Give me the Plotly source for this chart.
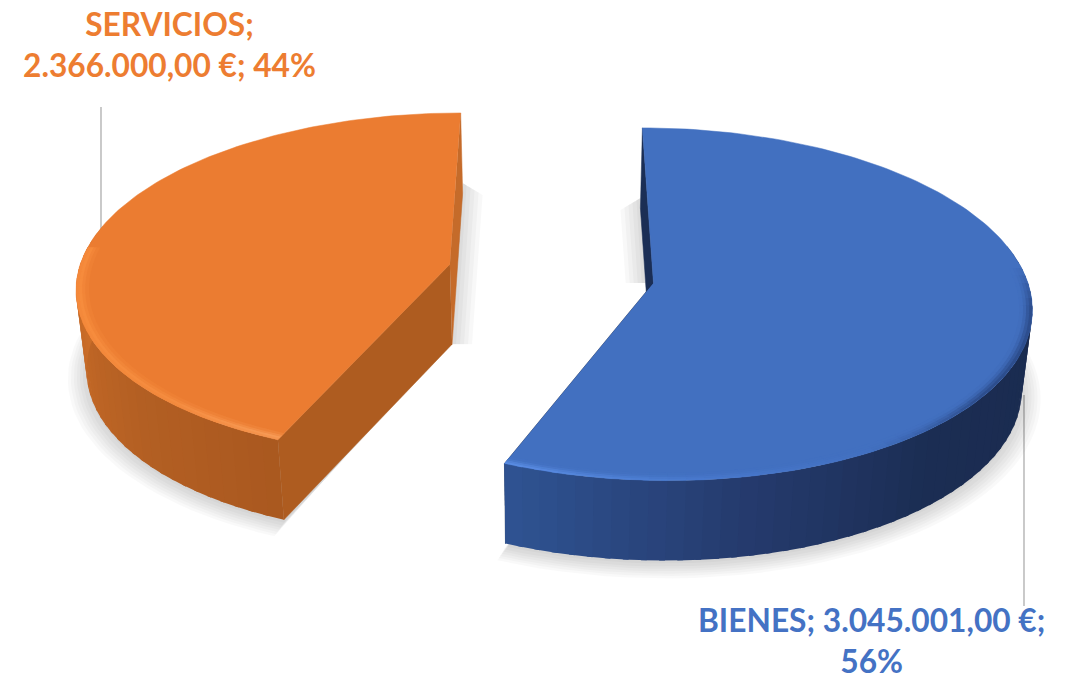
import numpy as np
import plotly.graph_objects as go

# ---- data ----
categories = ["BIENES", "SERVICIOS"]
values = [3045001.00, 2366000.00]
top_colors = ["#4270C0", "#EB7C31"]
label_colors = ["#4472C4", "#ED7D31"]

# ---- projection of the tilted disc ----
W, H = 1073, 679
X0, Y0 = 551.0, 273.5
A, B = 372.0, 171.5
PERSP, EXPLODE = 0.12, 0.279
DEPTH, TAPER = 80.0, 0.978
ROT = 0.0

total = sum(values)
shares = [v / total for v in values]
spans = [(0.0, 360.0 * shares[0]), (360.0 * shares[0], 360.0)]


def proj(bis, r, th, bottom=False, grow=1.0):
    bis, th = np.radians(bis), np.radians(np.asarray(th) + ROT)
    xd = EXPLODE * np.sin(bis) + r * grow * np.sin(th)
    zd = EXPLODE * np.cos(bis) + r * grow * np.cos(th)
    s = 1.0 / (1.0 + PERSP * zd)
    x = X0 + A * xd * s
    y = Y0 - B * zd * s
    if bottom:
        x = X0 + (x - X0) * TAPER
        y = y + DEPTH
    return x, y


def hex2rgb(c):
    return np.array([int(c[i:i + 2], 16) for i in (1, 3, 5)], float)


def mix(c1, c2, t):
    v = hex2rgb(c1) * (1 - t) + hex2rgb(c2) * t
    return "rgb(%d,%d,%d)" % tuple(v.round())


def ramp(stops, th):
    ths = [s[0] for s in stops]
    rgb = np.array([hex2rgb(s[1]) for s in stops])
    v = [np.interp(th, ths, rgb[:, i]) for i in range(3)]
    return "#%02X%02X%02X" % tuple(int(round(a)) for a in v)


fig = go.Figure()


def poly(xs, ys, color, name=None, lw=0.0):
    fig.add_trace(go.Scatter(
        x=list(xs), y=list(ys), mode="lines", fill="toself", fillcolor=color,
        line=dict(color=color, width=lw), hoverinfo="skip", showlegend=False,
        name=name or "",
    ))


def shade(xs, ys, alpha=0.022):
    fig.add_trace(go.Scatter(
        x=list(xs), y=list(ys), mode="lines", fill="toself",
        fillcolor=f"rgba(0,0,0,{alpha})", line=dict(width=0),
        hoverinfo="skip", showlegend=False,
    ))


wall_stops = [
    [(96, "#1A2B4F"), (140, "#1B2D53"), (170, "#253B6E"), (202, "#2F5392")],
    [(201, "#A9581F"), (228, "#B35F23"), (255, "#C36826"), (285, "#D2732C")],
]
rim_stops = [
    [(84, "#4270C0"), (98, "#2B4A88"), (128, "#2B4A88"), (150, "#4270C0"), (178, "#4A7BD0"), (202, "#5C8FE6")],
    [(201, "#F79C58"), (222, "#F58C3F"), (300, "#F78B3A"), (325, "#EB7C31"), (360, "#EB7C31")],
]
rim_weights = [[0.9, 0.6, 0.25, 0.05], [0.8, 1.0, 0.6, 0.25]]
cut_colors = [("#1B2E55", "#1B2E55"), ("#AE5C20", "#C56B2A")]
gap_side = [-1, 1]

# soft ground shadow
for i, (a, b) in enumerate(spans):
    bis = (a + b) / 2
    th = np.linspace(a, b, 70)
    for g in [1.05, 1.042, 1.034, 1.026, 1.018, 1.01, 1.0]:
        px, py = proj(bis, 1, th, True, g)
        ax, ay = proj(bis, 0, 0, True)
        dy = (g - 1) * 130
        shade(np.r_[ax, px], np.r_[ay - dy * 1.3, py + dy * 0.55 + 3])
    # shadow beside the straight back edge, towards the gap
    bx, by = proj(bis, 1, 0.0, True)
    ex, ey = proj(bis, 0, 0, True)
    if i == 0:
        tx, ty = proj(bis, 0, 0)
        f = (ty - by) / (ey - by)
        ex, ey = bx + (ex - bx) * f, ty
    for d in [4, 8, 12, 16, 20]:
        shade([bx, ex, ex + gap_side[i] * d, bx + gap_side[i] * d],
              [by - 10, ey, ey, by - 10 + d * 0.6], 0.026)

for i, (a, b) in enumerate(spans):
    bis = (a + b) / 2
    name = categories[i]
    ax, ay = proj(bis, 0, 0)
    abx, aby = proj(bis, 0, 0, True)

    # cut faces
    faces = (a, cut_colors[i][0]), (b, cut_colors[i][1])
    for th, col in faces:
        tx, ty = proj(bis, 1, th)
        bx, by = proj(bis, 1, th, True)
        poly([ax, tx, bx, abx], [ay, ty, by, aby], col, name, 0.5)

    # outer wall, strip by strip; each strip overlaps the previous one
    edges = np.arange(a, b + 0.01, 2.5)
    if edges[-1] < b:
        edges = np.r_[edges, b]
    order = list(zip(edges[:-1], edges[1:]))
    for t0, t1 in order:
        if np.cos(np.radians((t0 + t1) / 2)) > 0.22:
            continue
        tb = min(t1 + 0.8, b)
        x0, y0 = proj(bis, 1, t0)
        x1, y1 = proj(bis, 1, tb)
        x2, y2 = proj(bis, 1, tb, True)
        x3, y3 = proj(bis, 1, t0, True)
        poly([x0, x1, x2, x3], [y0, y1, y2, y3], ramp(wall_stops[i], (t0 + t1) / 2), name)

    # top face
    th = np.linspace(a, b, 160)
    px, py = proj(bis, 1, th)
    poly(np.r_[ax, px], np.r_[ay, py], top_colors[i], name, 0.5)

    # rounded rim
    radii = [1.0, 0.992, 0.984, 0.976, 0.968]
    for t0, t1 in order:
        mid = (t0 + t1) / 2
        if np.cos(np.radians(mid)) > 0.1:
            continue
        tb = min(t1 + 0.8, b)
        rim = ramp(rim_stops[i], mid)
        for k in range(4):
            r0, r1 = radii[k], radii[k + 1] - 0.002
            x0, y0 = proj(bis, r0, t0)
            x1, y1 = proj(bis, r0, tb)
            x2, y2 = proj(bis, r1, tb)
            x3, y3 = proj(bis, r1, t0)
            poly([x0, x1, x2, x3], [y0, y1, y2, y3],
                 mix(top_colors[i], rim, rim_weights[i][k]), name)


def money(v):
    s = f"{v:,.2f}"
    return s.replace(",", "#").replace(".", ",").replace("#", ".") + " €"


pct = [f"{round(s * 100)}%" for s in shares]
labels = [
    (f"{categories[0]}; {money(values[0])};<br>{pct[0]}", 871, 640, label_colors[0]),
    (f"{categories[1]};<br>{money(values[1])}; {pct[1]}", 169, 44, label_colors[1]),
]
annotations = [
    dict(x=x, y=y, xref="x", yref="y", text=t, showarrow=False, align="center",
         xanchor="center", yanchor="middle",
         font=dict(family="Lato", size=31.7, color=c, weight="bold"))
    for t, x, y, c in labels
]

leaders = [(1024, 395, 1024, 606), (101, 107, 101, 232)]
shapes = [
    dict(type="line", xref="x", yref="y", x0=a, y0=b, x1=c, y1=d,
         line=dict(color="#A6A6A6", width=1.2), layer="below")
    for a, b, c, d in leaders
]

fig.update_layout(
    width=W, height=H, margin=dict(l=0, r=0, t=0, b=0),
    paper_bgcolor="white", plot_bgcolor="white", showlegend=False,
    xaxis=dict(range=[0, W], visible=False, fixedrange=True),
    yaxis=dict(range=[H, 0], visible=False, fixedrange=True),
    annotations=annotations, shapes=shapes,
)

fig.write_html("out.html", post_script="document.body.style.margin='0';document.body.style.overflow='hidden';",
               config={"displayModeBar": False})
